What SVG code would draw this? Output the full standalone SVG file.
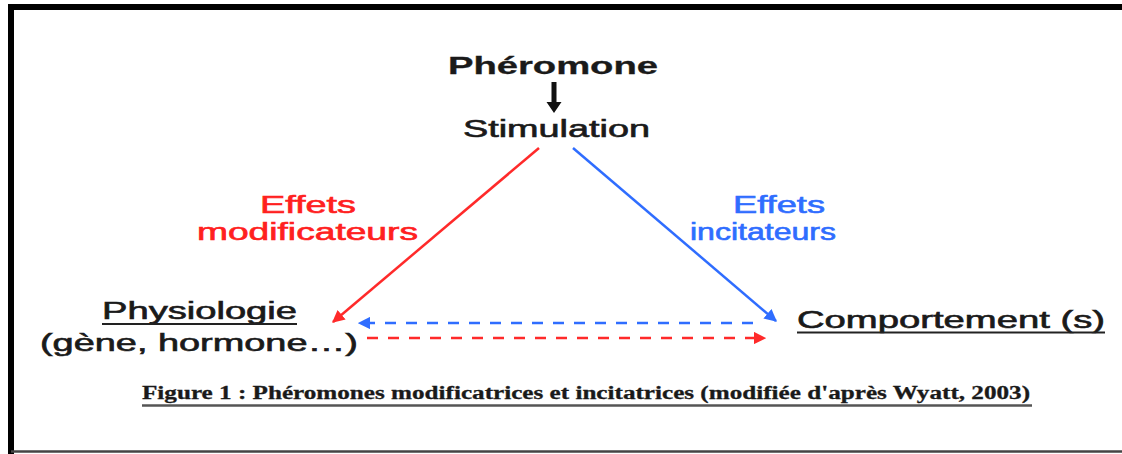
<svg xmlns="http://www.w3.org/2000/svg" width="1122" height="454" viewBox="0 0 1122 454">
<style>
.t{font-family:"Liberation Sans",Arial,sans-serif;font-size:23px;fill:#1a1a1a;stroke:#1a1a1a;stroke-width:0.6}
.b{font-weight:bold;stroke-width:0.3}
.red{fill:#ff2020;stroke:#ff2020}
.blue{fill:#2f6dff;stroke:#2f6dff}
.cap{font-family:"Liberation Serif","Times New Roman",serif;font-size:18px;font-weight:bold;fill:#1a1a1a;stroke:#1a1a1a;stroke-width:0.3}
.ul{stroke:#222;stroke-width:1.8}
</style>
<defs>
<marker id="ar" viewBox="0 0 10 10" refX="9" refY="5" markerWidth="5" markerHeight="5" orient="auto" markerUnits="strokeWidth"><path d="M0,0 L10,5 L0,10 Z" fill="#ff2a2a"/></marker>
<marker id="ab" viewBox="0 0 10 10" refX="9" refY="5" markerWidth="5" markerHeight="5" orient="auto" markerUnits="strokeWidth"><path d="M0,0 L10,5 L0,10 Z" fill="#2f6dff"/></marker>
</defs>
<rect width="1122" height="454" fill="#fff"/>
<g id="frame">
<path d="M11,454 V7 H1122" fill="none" stroke="#000" stroke-width="6"/>
<line x1="11" y1="451.5" x2="1122" y2="451.5" stroke="#444" stroke-width="2.5"/>
</g>
<g id="connectors">
<path d="M551.5,82 V102 H546.5 L554,113 L561.5,102 H556.5 V82 Z" fill="#111"/>
<line x1="539" y1="148" x2="333" y2="322" stroke="#ff2a2a" stroke-width="2.5" marker-end="url(#ar)"/>
<line x1="573" y1="148" x2="776" y2="321" stroke="#2f6dff" stroke-width="2.5" marker-end="url(#ab)"/>
<line x1="753" y1="323" x2="359" y2="323" stroke="#2f6dff" stroke-width="2.5" stroke-dasharray="11,10" marker-end="url(#ab)"/>
<line x1="367" y1="338" x2="765" y2="338" stroke="#ff2a2a" stroke-width="2.5" stroke-dasharray="11,10" marker-end="url(#ar)"/>
</g>
<g id="pheromone"><text class="t b" x="448" y="74" font-size="24" textLength="210" lengthAdjust="spacingAndGlyphs">Phéromone</text></g>
<g id="stimulation"><text class="t" x="463" y="137" textLength="187" lengthAdjust="spacingAndGlyphs">Stimulation</text></g>
<g id="effets-modificateurs">
<text class="t red" x="260" y="213" textLength="96" lengthAdjust="spacingAndGlyphs">Effets</text>
<text class="t red" x="197" y="240" textLength="221" lengthAdjust="spacingAndGlyphs">modificateurs</text>
</g>
<g id="effets-incitateurs">
<text class="t blue" x="733" y="213" textLength="92" lengthAdjust="spacingAndGlyphs">Effets</text>
<text class="t blue" x="690" y="240" textLength="146" lengthAdjust="spacingAndGlyphs">incitateurs</text>
</g>
<g id="physiologie">
<text class="t" x="102" y="319" textLength="195" lengthAdjust="spacingAndGlyphs">Physiologie</text>
<line class="ul" x1="102" y1="324" x2="297" y2="324"/>
<text class="t" x="40" y="351" textLength="318" lengthAdjust="spacingAndGlyphs">(gène, hormone…)</text>
</g>
<g id="comportement">
<text class="t" x="797" y="328" textLength="308" lengthAdjust="spacingAndGlyphs">Comportement (s)</text>
<line class="ul" x1="797" y1="332.5" x2="1105" y2="332.5"/>
</g>
<g id="caption">
<text class="cap" x="142" y="399" textLength="888" lengthAdjust="spacingAndGlyphs">Figure 1 : Phéromones modificatrices et incitatrices (modifiée d'après Wyatt, 2003)</text>
<line x1="142" y1="405.5" x2="1032" y2="405.5" stroke="#555" stroke-width="2.5"/>
</g>
</svg>
